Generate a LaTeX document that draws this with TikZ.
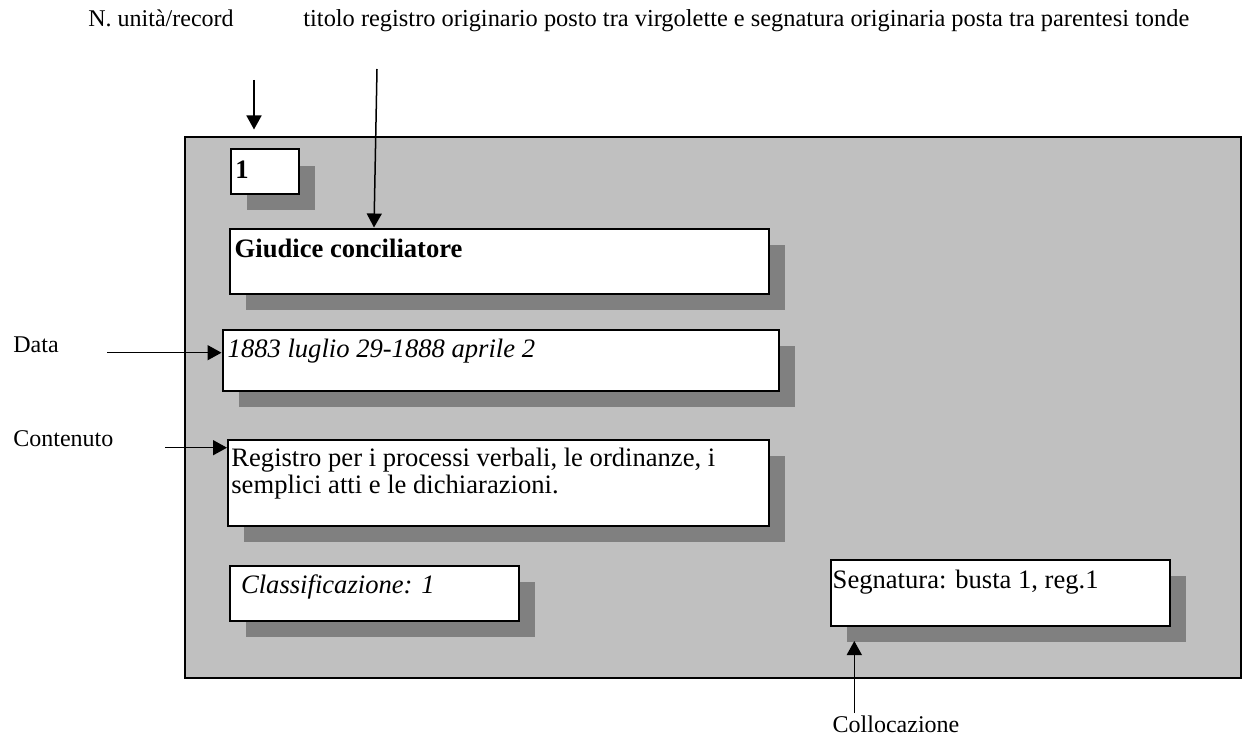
\documentclass[tikz,border=0pt]{standalone}
\usepackage{fontspec}
\setmainfont{Liberation Serif}
\usetikzlibrary{arrows.meta,shadows}
\definecolor{bggray}{HTML}{C0C0C0}
\definecolor{shgray}{HTML}{808080}
\tikzset{
  panel/.style={draw, line width=1pt, fill=bggray, anchor=north west, inner sep=0pt},
  card/.style={draw, line width=1pt, fill=white, anchor=north west, inner sep=0pt,
    drop shadow={shadow xshift=8pt, shadow yshift=-8pt, fill=shgray, opacity=1}},
  lbl/.style={anchor=base west, inner sep=0pt, font=\fontsize{12}{13.5}\selectfont, align=left},
  intext/.style={anchor=base west, inner sep=0pt, font=\fontsize{13.3}{13.5}\selectfont, align=left},
  arr/.style={line width=0.75pt, -{Triangle[length=7pt,width=7.5pt]}}
}
\begin{document}
\begin{tikzpicture}[x=0.5pt, y=-0.5pt]
\useasboundingbox (0,0) rectangle (1242,738);
% panel
\node[panel, minimum width=528pt, minimum height=270.5pt] (panel) at (184,136) {};
% cards
\node[card, minimum width=34pt, minimum height=22pt] (bnum) at (229.5,148.5) {};
\node[card, minimum width=269.25pt, minimum height=32.5pt] (btit) at (229,227.5) {};
\node[card, minimum width=278pt, minimum height=30.25pt] (bdat) at (221.5,329) {};
\node[card, minimum width=270.25pt, minimum height=43pt] (bcon) at (227,438.5) {};
\node[card, minimum width=144.25pt, minimum height=27.25pt] (bcla) at (229,565) {};
\node[card, minimum width=169.75pt, minimum height=33pt] (bseg) at (829.5,558.5) {};
% texts in cards
\node[intext, font=\fontsize{13.3}{13.5}\selectfont\bfseries] (tnum) at (235,178.3) {1};
\node[intext, font=\fontsize{13.3}{13.5}\selectfont\bfseries] (ttit) at (234.3,257) {Giudice conciliatore};
\node[intext, font=\fontsize{13.3}{13.5}\selectfont\itshape] (tdat) at (227.3,357.3) {1883 luglio 29-1888 aprile 2};
\node[intext] (tcon) at (231,493.7) {Registro per i processi verbali, le ordinanze, i\\semplici atti e le dichiarazioni.};
\node[intext, font=\fontsize{13.3}{13.5}\selectfont\itshape] (tcla) at (240.7,593.3) {Classificazione: 1};
\node[intext] (tseg) at (832.3,588.3) {Segnatura: busta 1, reg.1};
% outside labels
\node[lbl] (lnum) at (88,27) {N. unità/record};
\node[lbl, font=\fontsize{12.2}{13.5}\selectfont] (ltit) at (303,27) {titolo registro originario posto tra virgolette e segnatura originaria posta tra parentesi tonde};
\node[lbl] (ldat) at (13,352) {Data};
\node[lbl] (lcon) at (13,446.7) {Contenuto};
\node[lbl] (lcol) at (832.3,732.7) {Collocazione};
% arrow endpoints
\coordinate (anum0) at (254,80);
\coordinate (anum1) at (254,129.5);
\coordinate (atit0) at (377,69);
\coordinate (adat0) at (107,352.7);
\coordinate (acon0) at (165,447.7);
\coordinate (acol0) at (854.3,713);
\coordinate (acol1) at (854.3,641);
% arrows
\draw[arr] (anum0) -- (anum1);
\draw[arr] (atit0) -- (btit.north -| 374,0);
\draw[arr] (adat0) -- (adat0 -| bdat.west);
\draw[arr] (acon0) -- (acon0 -| bcon.west);
\draw[arr] (acol0) -- (acol1);
\end{tikzpicture}
\end{document}
